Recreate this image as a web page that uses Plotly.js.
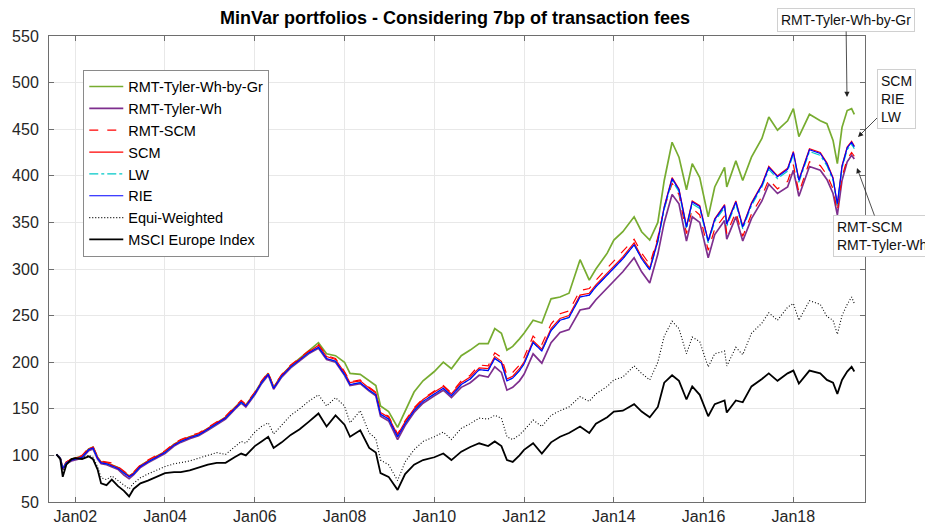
<!DOCTYPE html>
<html>
<head>
<meta charset="utf-8">
<script src="https://cdn.plot.ly/plotly-3.0.1.min.js"></script>
<style>html,body{margin:0;padding:0;background:#fff;}#chart{width:925px;height:525px;}</style>
</head>
<body>
<div id="chart"></div>
<script>
const dates = ["2001-08-01","2001-09-01","2001-09-21","2001-10-20","2001-12-01","2002-01-01","2002-02-25","2002-04-20","2002-05-25","2002-07-01","2002-07-30","2002-09-12","2002-10-25","2002-12-15","2003-02-01","2003-03-15","2003-04-20","2003-06-15","2003-08-15","2003-10-20","2004-01-01","2004-03-15","2004-05-08","2004-07-20","2004-10-01","2004-12-15","2005-02-25","2005-05-08","2005-07-20","2005-09-12","2005-10-20","2006-01-01","2006-02-25","2006-04-20","2006-06-03","2006-08-08","2006-10-20","2007-01-01","2007-03-15","2007-06-03","2007-08-08","2007-10-20","2008-01-01","2008-02-15","2008-05-08","2008-07-20","2008-09-12","2008-10-20","2008-12-25","2009-03-08","2009-05-08","2009-07-20","2009-10-01","2010-01-01","2010-03-15","2010-05-20","2010-08-08","2010-10-20","2011-01-01","2011-03-15","2011-05-08","2011-07-01","2011-08-15","2011-10-01","2011-11-25","2012-01-01","2012-03-15","2012-05-25","2012-08-08","2012-10-20","2013-01-01","2013-04-01","2013-06-15","2013-08-08","2013-11-08","2014-01-01","2014-03-15","2014-06-15","2014-08-15","2014-10-20","2014-12-25","2015-02-15","2015-04-20","2015-06-15","2015-08-15","2015-10-01","2015-12-01","2016-02-08","2016-04-01","2016-06-20","2016-07-08","2016-09-20","2016-11-15","2017-01-25","2017-04-20","2017-06-15","2017-08-25","2017-11-15","2018-01-01","2018-02-15","2018-05-12","2018-08-08","2018-10-01","2018-11-20","2018-12-25","2019-02-01","2019-03-15","2019-04-20","2019-05-12"];

const tylerWhByGr = [101,97,86,92,96,97,99,107,109,98,93,92,90,87,82,78,81,89,94,99,104,112,116,120,123,129,135,141,151,158,154,167,179,188,173,186,196,204,212,221,209,207,200,188,187,180,175,153,147,130,148,168,180,190,200,193,207,213,220,220,236,231,213,217,225,231,245,242,268,270,274,310,288,300,317,331,340,356,340,331,350,395,436,420,385,413,398,356,388,409,388,416,395,420,440,463,449,459,472,442,466,459,456,438,413,452,470,472,466];

const tylerWh = [101,97,85,91,94,95,97,105,107,96,91,90,88,85,79,75,79,87,92,97,102,110,114,118,121,127,133,139,149,156,152,165,177,186,171,184,194,202,209,215,203,200,186,175,177,169,164,142,137,117,132,146,156,164,170,162,173,178,186,184,195,189,170,173,180,187,209,199,221,232,235,256,258,267,280,287,297,312,297,285,316,350,380,370,330,356,350,312,337,352,332,356,330,354,373,391,381,388,406,378,410,406,396,381,358,395,415,422,418];

const rmtSCM = [101,97,87,93,96,97,100,108,110,99,94,93,92,88,83,79,82,90,95,100,105,113,117,121,124,130,136,142,152,159,155,168,180,189,174,187,197,205,212,219,207,204,190,179,181,173,168,147,142,123,137,151,161,169,175,167,180,186,197,196,210,205,186,189,197,205,228,219,241,252,255,277,279,288,301,308,318,332,317,305,334,365,392,380,338,365,358,320,343,357,338,361,335,359,378,396,386,394,412,382,415,411,401,386,362,399,418,425,421];

const scm = [101,97,86,93,96,97,99,107,109,98,93,92,90,87,82,78,81,89,94,99,104,112,116,120,123,129,135,141,151,158,154,167,179,188,173,186,196,204,211,218,206,203,189,178,180,172,167,146,141,122,136,150,160,168,174,166,178,184,194,193,206,201,182,185,193,200,223,214,236,247,250,272,274,283,296,303,313,328,313,301,332,367,398,386,346,373,368,330,354,369,349,373,346,371,391,410,400,408,426,396,429,425,414,398,368,411,431,437,432];

const lw = [101,97,86,92,95,96,98,106,108,97,92,91,89,86,81,77,80,88,93,98,103,111,115,119,122,128,134,140,150,157,153,166,178,187,172,185,195,203,210,216,204,201,187,176,178,170,165,144,139,120,134,148,158,166,172,164,176,182,192,191,204,199,180,183,191,198,221,212,234,245,248,270,272,281,294,301,311,326,311,299,329,364,395,383,343,370,365,328,351,366,346,370,343,368,388,407,397,405,423,393,426,422,411,395,368,408,428,434,429];

const rie = [101,97,86,92,95,96,98,106,108,97,92,91,89,86,81,77,80,88,93,98,103,111,115,119,122,128,134,140,150,157,153,166,178,187,172,185,195,203,210,216,204,201,187,176,178,170,165,144,139,120,134,148,158,166,172,164,176,182,192,191,204,199,180,183,191,198,221,212,234,245,248,270,272,281,294,301,311,326,311,299,330,366,397,385,345,372,367,330,353,368,348,372,345,370,390,409,399,407,425,395,428,424,413,397,370,410,430,436,431];

const equiWeighted = [101,97,84,90,96,97,97,100,98,88,76,74,78,73,69,64,70,76,80,84,88,91,92,94,97,100,103,101,109,115,113,125,131,135,123,132,143,150,158,165,153,162,153,135,148,124,118,95,90,73,93,106,115,120,125,117,129,134,140,139,143,140,120,117,122,127,138,131,143,148,152,163,158,166,174,181,184,196,188,181,200,228,244,236,209,227,222,195,209,212,196,216,208,231,242,253,245,259,263,245,266,262,249,245,230,250,262,270,263];

const msciEurope = [101,96,77,90,96,97,96,99,96,85,70,68,74,67,62,56,64,70,73,77,81,82,82,84,87,90,92,92,98,102,100,110,115,120,108,114,122,128,136,145,131,143,133,120,127,108,103,81,77,63,80,90,95,98,102,95,104,109,113,110,115,110,95,93,100,106,113,102,114,120,124,131,124,134,141,147,148,155,147,141,152,178,186,180,160,174,165,142,155,159,146,159,157,174,182,188,180,188,191,177,191,188,181,178,166,181,190,195,190];

const seriesNames = ["RMT-Tyler-Wh-by-Gr","RMT-Tyler-Wh","RMT-SCM","SCM","LW","RIE","Equi-Weighted","MSCI Europe Index"];
const seriesValues = [tylerWhByGr, tylerWh, rmtSCM, scm, lw, rie, equiWeighted, msciEurope];
const seriesStyles = [
  {color:"rgb(119,172,48)", width:1.7, dash:"solid"},
  {color:"rgb(126,47,142)", width:1.7, dash:"solid"},
  {color:"rgb(255,0,0)", width:1.2, dash:"dash"},
  {color:"rgb(255,0,0)", width:1.2, dash:"solid"},
  {color:"rgb(0,200,200)", width:1.2, dash:"dashdot"},
  {color:"rgb(0,0,255)", width:1.2, dash:"solid"},
  {color:"rgb(0,0,0)", width:1.1, dash:"1px,2px"},
  {color:"rgb(0,0,0)", width:1.8, dash:"solid"}
];
const xTickVals = ["2002-01-01","2004-01-01","2006-01-01","2008-01-01","2010-01-01","2012-01-01","2014-01-01","2016-01-01","2018-01-01"];
const xTickText = ["Jan02","Jan04","Jan06","Jan08","Jan10","Jan12","Jan14","Jan16","Jan18"];
const yTickVals = [50,100,150,200,250,300,350,400,450,500,550];

const traces = seriesNames.map((n,i)=>({
  type:"scatter", mode:"lines", name:n, x:dates, y:seriesValues[i],
  line:Object.assign({}, seriesStyles[i]), hoverinfo:"skip"
}));

const font = "Liberation Sans, Arial, Helvetica, sans-serif";
const annBase = {xref:"paper", yref:"paper", axref:"pixel", ayref:"pixel", showarrow:true,
  arrowhead:2, arrowsize:1.3, arrowwidth:0.8, arrowcolor:"#222", bgcolor:"#fff",
  bordercolor:"#d0d0d0", borderwidth:1, borderpad:3, font:{family:font, size:14, color:"#111"}, align:"left"};

const layout = {
  width:925, height:525,
  margin:{l:49, r:60, t:36, b:23, pad:0},
  paper_bgcolor:"#fff", plot_bgcolor:"#fff",
  font:{family:font, size:16, color:"#262626"},
  title:{text:"<b>MinVar portfolios - Considering 7bp of transaction fees</b>", font:{family:font, size:18, color:"#000"}, x:0.492, xanchor:"center", y:0.966, yanchor:"middle"},
  showlegend:true,
  legend:{x:0.042, y:0.928, xanchor:"left", yanchor:"top", bgcolor:"#fff", bordercolor:"#8a8a8a", borderwidth:1,
    font:{family:font, size:14.5, color:"#000"}, tracegroupgap:0, itemwidth:34},
  xaxis:{type:"date", range:["2001-06-01","2019-08-07"], tickvals:xTickVals, ticktext:xTickText,
    showgrid:true, gridcolor:"#e8e8e8", gridwidth:1, zeroline:false,
    showline:true, linecolor:"#6e6e6e", linewidth:1, mirror:"ticks", ticks:"inside", ticklen:5, tickcolor:"#6e6e6e",
    tickfont:{family:font, size:16, color:"#262626"}},
  yaxis:{range:[50,550], tickvals:yTickVals, showgrid:true, gridcolor:"#e8e8e8", gridwidth:1, zeroline:false,
    showline:true, linecolor:"#6e6e6e", linewidth:1, mirror:"ticks", ticks:"inside", ticklen:5, tickcolor:"#6e6e6e",
    ticklabelstandoff:6, tickfont:{family:font, size:16, color:"#262626"}},
  annotations:[
    Object.assign({}, annBase, {text:"RMT-Tyler-Wh-by-Gr", x:(847-49)/816, y:(502-97)/466, ax:-1, ay:-77}),
    Object.assign({}, annBase, {text:"SCM<br>RIE<br>LW", x:(858-49)/816, y:(502-137)/466, ax:38, ay:-38}),
    Object.assign({}, annBase, {text:"RMT-SCM<br>RMT-Tyler-Wh", x:(857-49)/816, y:(502-168)/466, ax:25, ay:68})
  ]
};

Plotly.newPlot("chart", traces, layout, {staticPlot:true, displayModeBar:false});
</script>
</body>
</html>
